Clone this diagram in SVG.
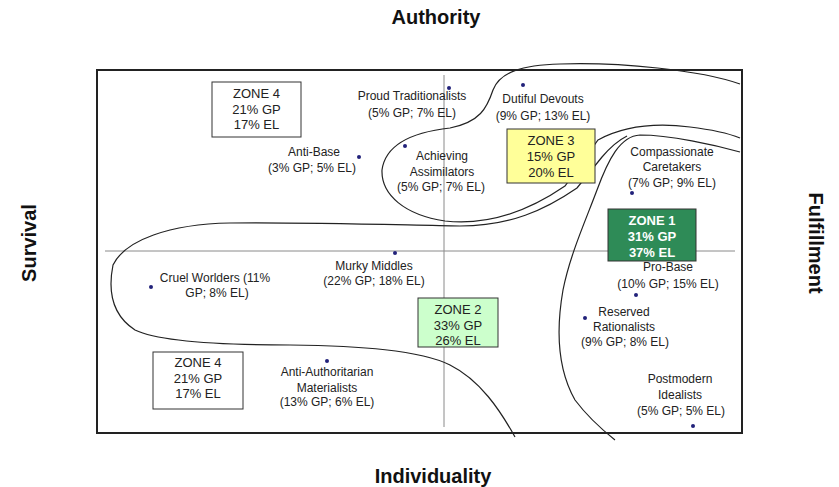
<svg xmlns="http://www.w3.org/2000/svg" width="839" height="487" viewBox="0 0 839 487">
<style>
.lbl{font-family:"Liberation Sans",Arial,sans-serif;font-size:12px;fill:#222;text-anchor:middle}
.zt{font-family:"Liberation Sans",Arial,sans-serif;font-size:13px;fill:#222;text-anchor:middle}
.zw{font-family:"Liberation Sans",Arial,sans-serif;font-size:13px;fill:#fff;font-weight:bold;text-anchor:middle}
.ax{font-family:"Liberation Sans",Arial,sans-serif;font-size:20px;font-weight:bold;fill:#111;text-anchor:middle}
.zb{stroke:#333;stroke-width:1}
.dot{fill:#22227a}
.cv{fill:none;stroke:#222;stroke-width:1.2}
.axl{stroke:#8a8a8a;stroke-width:1}
</style>
<rect x="0" y="0" width="839" height="487" fill="#fff"/>
<text class="ax" x="436" y="24">Authority</text>
<text class="ax" x="433" y="483">Individuality</text>
<text class="ax" transform="translate(36,243) rotate(-90)">Survival</text>
<text class="ax" transform="translate(809,243) rotate(90)">Fulfillment</text>
<g id="connectors">
<line class="axl" x1="105" y1="251" x2="735" y2="251"/>
<line class="axl" x1="444" y1="75" x2="444" y2="427"/>
<path class="cv" d="M740,84 C700,70 620,62 560,64 C522,65 500,72 493,90 C487,108 480,122 450,128 C405,133 385,148 382,170 C381,195 405,215 445,221 C490,226 530,210 565,186 L598,140 C620,128 650,122 690,127 C715,130 730,134 740,138"/>
<path class="cv" d="M740,152 C715,145 670,135 640,135 C620,136 608,160 597,190 C585,222 570,255 563,290 C556,330 558,370 575,400 C590,420 605,432 615,440"/>
<path class="cv" d="M627,136 C615,142 608,150 602,157 L577,188 C545,210 510,226 460,226 C400,225 300,222 230,223 C170,224 125,240 113,265 C108,290 112,315 135,330 C160,342 220,345 290,345 C360,346 420,350 450,365 C480,380 500,410 515,437"/>
</g>
<rect x="97" y="70" width="645" height="363" fill="none" stroke="#222" stroke-width="2"/>
<g id="zone4a"><rect class="zb" x="212" y="82" width="89" height="55" fill="#fff"/>
<text class="zt" x="256.5" y="98">ZONE 4</text><text class="zt" x="256.5" y="113.5">21% GP</text><text class="zt" x="256.5" y="129">17% EL</text></g>
<g id="zone4b"><rect class="zb" x="153" y="352" width="90" height="57" fill="#fff"/>
<text class="zt" x="198" y="367">ZONE 4</text><text class="zt" x="198" y="382.5">21% GP</text><text class="zt" x="198" y="398">17% EL</text></g>
<g id="zone3"><rect class="zb" x="507" y="129" width="88" height="54" fill="#ffff99"/>
<text class="zt" x="551" y="145">ZONE 3</text><text class="zt" x="551" y="161">15% GP</text><text class="zt" x="551" y="177">20% EL</text></g>
<g id="zone1"><rect class="zb" x="608" y="209" width="88" height="52" fill="#2e8b57"/>
<text class="zw" x="652" y="225">ZONE 1</text><text class="zw" x="652" y="241">31% GP</text><text class="zw" x="652" y="257">37% EL</text></g>
<g id="zone2"><rect class="zb" x="418" y="298" width="80" height="49" fill="#ccffcc"/>
<text class="zt" x="458" y="314">ZONE 2</text><text class="zt" x="458" y="329.5">33% GP</text><text class="zt" x="458" y="345">26% EL</text></g>
<g id="proud-traditionalists"><text class="lbl" x="412" y="100">Proud Traditionalists</text><text class="lbl" x="412" y="117">(5% GP; 7% EL)</text><circle class="dot" cx="449" cy="88" r="2"/></g>
<g id="dutiful-devouts"><text class="lbl" x="543" y="103">Dutiful Devouts</text><text class="lbl" x="543" y="120">(9% GP; 13% EL)</text><circle class="dot" cx="523" cy="85" r="2"/></g>
<g id="anti-base"><text class="lbl" x="314" y="156">Anti-Base</text><text class="lbl" x="312" y="172">(3% GP; 5% EL)</text><circle class="dot" cx="359" cy="157" r="2"/></g>
<g id="achieving-assimilators"><text class="lbl" x="442" y="160">Achieving</text><text class="lbl" x="442" y="176">Assimilators</text><text class="lbl" x="441" y="191">(5% GP; 7% EL)</text><circle class="dot" cx="405" cy="146" r="2"/></g>
<g id="compassionate-caretakers"><text class="lbl" x="672" y="156">Compassionate</text><text class="lbl" x="672" y="171">Caretakers</text><text class="lbl" x="672" y="187">(7% GP; 9% EL)</text><circle class="dot" cx="632" cy="193" r="2"/></g>
<g id="pro-base"><text class="lbl" x="668" y="271">Pro-Base</text><text class="lbl" x="668" y="288">(10% GP; 15% EL)</text><circle class="dot" cx="636" cy="295" r="2"/></g>
<g id="reserved-rationalists"><text class="lbl" x="624" y="316">Reserved</text><text class="lbl" x="624" y="331">Rationalists</text><text class="lbl" x="625" y="346">(9% GP; 8% EL)</text><circle class="dot" cx="585" cy="318" r="2"/></g>
<g id="postmodern-idealists"><text class="lbl" x="680" y="383">Postmodern</text><text class="lbl" x="680" y="399">Idealists</text><text class="lbl" x="681" y="415">(5% GP; 5% EL)</text><circle class="dot" cx="693" cy="426" r="2"/></g>
<g id="cruel-worlders"><text class="lbl" x="215" y="282">Cruel Worlders (11%</text><text class="lbl" x="217" y="297">GP; 8% EL)</text><circle class="dot" cx="151" cy="287" r="2"/></g>
<g id="murky-middles"><text class="lbl" x="374" y="270">Murky Middles</text><text class="lbl" x="374" y="285">(22% GP; 18% EL)</text><circle class="dot" cx="395" cy="253" r="2"/></g>
<g id="anti-authoritarian-materialists"><text class="lbl" x="327" y="376">Anti-Authoritarian</text><text class="lbl" x="327" y="392">Materialists</text><text class="lbl" x="327" y="406">(13% GP; 6% EL)</text><circle class="dot" cx="327" cy="361" r="2"/></g>
</svg>
